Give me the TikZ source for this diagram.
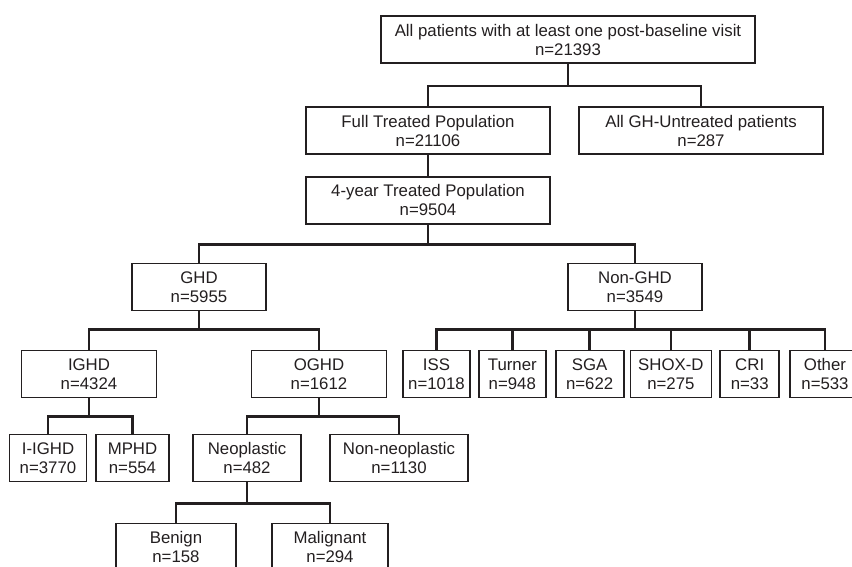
\documentclass[tikz,border=0pt]{standalone}
\usepackage{fontspec}
\setmainfont{Liberation Sans}
\usepackage{tikz}
\usetikzlibrary{positioning}
\definecolor{lineColor}{RGB}{35,31,32}
\tikzstyle{group} = [rectangle, minimum height=47pt, inner sep=0pt, align=center, draw=lineColor, fill=white, text=lineColor, line width=1.8pt, font=\fontsize{16.8}{19}\selectfont]
\tikzstyle{link} = [line width=2.6pt, lineColor]

\begin{document}
\begin{tikzpicture}[x=1pt, y=-1pt]
        \useasboundingbox (0,0) rectangle (852,566);

        \node (all) [group, minimum width=374pt] at (568,39.5) {All patients with at least one post-baseline visit \\ n=21393};
        \node (full) [group, minimum width=244pt] at (428,130.5) {Full Treated Population \\ n=21106};
        \node (untreated) [group, minimum width=244pt] at (701,130.5) {All GH-Untreated patients \\ n=287};
        \node (fouryear) [group, minimum width=244pt, below=21pt of full] {4-year Treated Population \\ n=9504};

        \node (ghd) [group, minimum width=134pt] at (199,287) {GHD \\ n=5955};
        \node (nonghd) [group, minimum width=134pt] at (635,287) {Non-GHD \\ n=3549};

        \node (ighd) [group, minimum width=135pt] at (89,374) {IGHD \\ n=4324};
        \node (oghd) [group, minimum width=135pt] at (319,374) {OGHD \\ n=1612};
        \node (iighd) [group, minimum width=77pt] at (48,458) {I-IGHD \\ n=3770};
        \node (mphd) [group, minimum width=73pt] at (132.5,458) {MPHD \\ n=554};
        \node (neo) [group, minimum width=108pt] at (247,458) {Neoplastic \\ n=482};
        \node (nonneo) [group, minimum width=138pt] at (399,458) {Non-neoplastic \\ n=1130};
        \node (benign) [group, minimum width=120pt] at (176,547) {Benign \\ n=158};
        \node (malignant) [group, minimum width=116pt] at (330,547) {Malignant \\ n=294};

        \node (iss) [group, minimum width=67pt] at (436.5,374) {ISS \\ n=1018};
        \node (turner) [group, minimum width=67pt, right=7pt of iss] {Turner \\ n=948};
        \node (sga) [group, minimum width=68pt, right=8pt of turner] {SGA \\ n=622};
        \node (shox) [group, minimum width=81pt, right=5pt of sga] {SHOX-D \\ n=275};
        \node (cri) [group, minimum width=59pt, right=7pt of shox] {CRI \\ n=33};
        \node (other) [group, minimum width=70pt, right=9pt of cri] {Other \\ n=533};

        \draw [link] (all.south) -- ++(0,22) -| (full.north);
        \draw [link] (all.south) -- ++(0,22) -| (untreated.north);
        \draw [link] (full) -- (fouryear);
        \draw [link] (fouryear.south) -- ++(0,20) -| (ghd.north);
        \draw [link] (fouryear.south) -- ++(0,20) -| (nonghd.north);
        \draw [link] (ghd.south) -- ++(0,18) -| (ighd.north);
        \draw [link] (ghd.south) -- ++(0,18) -| (oghd.north);
        \draw [link] (ighd.south) -- ++(0,18) -| (iighd.north);
        \draw [link] (ighd.south) -- ++(0,18) -| (mphd.north);
        \draw [link] (oghd.south) -- ++(0,18) -| (neo.north);
        \draw [link] (oghd.south) -- ++(0,18) -| (nonneo.north);
        \draw [link] (neo.south) -- ++(0,21) -| (benign.north);
        \draw [link] (neo.south) -- ++(0,21) -| (malignant.north);
        \draw [link] (nonghd.south) -- ++(0,18) -| (iss.north);
        \draw [link] (nonghd.south) -- ++(0,18) -| (turner.north);
        \draw [link] (nonghd.south) -- ++(0,18) -| (sga.north);
        \draw [link] (nonghd.south) -- ++(0,18) -| (shox.north);
        \draw [link] (nonghd.south) -- ++(0,18) -| (cri.north);
        \draw [link] (nonghd.south) -- ++(0,18) -| (other.north);
    \end{tikzpicture}
\end{document}
